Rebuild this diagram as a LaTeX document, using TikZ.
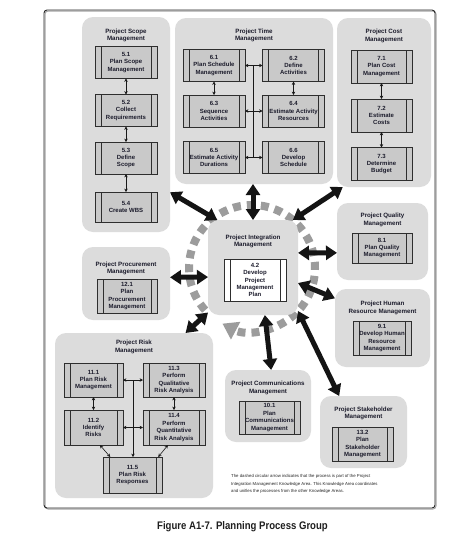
\documentclass[tikz,border=0pt]{standalone}
\usepackage{fontspec}
\setmainfont{Liberation Sans}
\newfontfamily\capfont[FakeStretch=0.87]{Liberation Sans}
\usetikzlibrary{shapes,arrows.meta,calc}
\definecolor{areagray}{HTML}{DCDCDC}
\definecolor{boxgray}{HTML}{C9C9C9}
\definecolor{boxline}{HTML}{2E2E2E}
\definecolor{ink}{HTML}{1C1C2C}
\definecolor{ringgray}{HTML}{9C9C9C}
\begin{document}
\begin{tikzpicture}[x=1pt,y=-1pt]
        \tikzstyle{area}=[fill=areagray, rounded corners=11pt, inner sep=0pt, outer sep=0pt]
        \tikzstyle{atitle}=[font=\fontsize{6.2}{7.6}\selectfont\bfseries, text=ink, align=center, inner sep=0pt]
        \tikzstyle{proc}=[draw=boxline, fill=boxgray, line width=.6pt, inner sep=0pt, outer sep=0pt,
            minimum width=62pt, minimum height=32pt, align=center, text=ink,
            font=\fontsize{6}{7.4}\selectfont\bfseries,
            path picture={\draw[boxline, line width=.5pt]
                ([xshift=6pt]path picture bounding box.north west) -- ([xshift=6pt]path picture bounding box.south west)
                ([xshift=-6pt]path picture bounding box.north east) -- ([xshift=-6pt]path picture bounding box.south east);}]
        \tikzstyle{link}=[black!90, line width=.6pt, >={Stealth[length=3.4pt,width=3.4pt]}]
        \tikzstyle{bigarrow}=[black!92, line width=5pt, >={Triangle[length=11pt,width=14pt]}, <->]
        \useasboundingbox[fill=white] (0,0) rectangle (467,552);
        \draw[gray!70, line width=1pt, rounded corners=3pt] (45,11) rectangle (436,509);
        \draw[black!85, line width=.9pt, rounded corners=3pt] (44,10) rectangle (435,508);
        \draw[ringgray, line width=8pt, dash pattern=on 8pt off 6pt, -{Triangle[length=15pt,width=19pt]}]
            (252,268) ++(-222:63) arc[start angle=-222, end angle=118, radius=63];

        \node[area, minimum width=88pt, minimum height=215pt] (scope) at (126,124.5) {};
        \node[area, minimum width=158pt, minimum height=166pt] (time) at (254,101) {};
        \node[area, minimum width=94pt, minimum height=169pt] (cost) at (384,102.5) {};
        \node[area, minimum width=90pt, minimum height=95pt] (integ) at (253,267.5) {};
        \node[area, minimum width=91pt, minimum height=77pt] (quality) at (382.5,241.5) {};
        \node[area, minimum width=95pt, minimum height=78pt] (hr) at (382.5,328) {};
        \node[area, minimum width=88pt, minimum height=73pt] (procure) at (126,283.5) {};
        \node[area, minimum width=158pt, minimum height=165pt] (risk) at (134,415.5) {};
        \node[area, minimum width=86pt, minimum height=72pt] (comm) at (268,406) {};
        \node[area, minimum width=87pt, minimum height=72pt] (stake) at (363.5,432) {};

        \node[atitle] (scopet) at (126,35.5) {Project Scope\\Management};
        \node[atitle] (timet) at (254,35.5) {Project Time\\Management};
        \node[atitle] (costt) at (384,36) {Project Cost\\Management};
        \node[atitle] (integt) at (253,241.5) {Project Integration\\Management};
        \node[atitle] (qualityt) at (382.5,220) {Project Quality\\Management};
        \node[atitle] (hrt) at (382.5,308) {Project Human\\Resource Management};
        \node[atitle] (procuret) at (126,268.5) {Project Procurement\\Management};
        \node[atitle] (riskt) at (134,347) {Project Risk\\Management};
        \node[atitle] (commt) at (268,388) {Project Communications\\Management};
        \node[atitle] (staket) at (363.5,413.5) {Project Stakeholder\\Management};

        \node[proc] (s51) at (126,62.5) {5.1\\Plan Scope\\Management};
        \node[proc] (s52) at (126,110.5) {5.2\\Collect\\Requirements};
        \node[proc] (s53) at (126,158) {5.3\\Define\\Scope};
        \node[proc, minimum height=30pt] (s54) at (126,207) {5.4\\Create WBS};
        \draw[link, <->] (s51) -- (s52);
        \draw[link, <->] (s52) -- (s53);
        \draw[link, <->] (s53) -- (s54);

        \node[proc] (t61) at (214,65.5) {6.1\\Plan Schedule\\Management};
        \node[proc] (t62) at (293.5,65.5) {6.2\\Define\\Activities};
        \node[proc] (t63) at (214,111) {6.3\\Sequence\\Activities};
        \node[proc] (t64) at (293.5,111) {6.4\\Estimate Activity\\Resources};
        \node[proc] (t65) at (214,157.5) {6.5\\Estimate Activity\\Durations};
        \node[proc] (t66) at (293.5,157.5) {6.6\\Develop\\Schedule};
        \coordinate (tbar) at ($(t61.east)!.5!(t62.west)$);
        \draw[link] (tbar) -- (tbar |- t65.east);
        \draw[link, <->] (t61) -- (t62);
        \draw[link, <->] (t63) -- (t64);
        \draw[link, <->] (t65) -- (t66);
        \draw[link, <->] (t61) -- (t63);
        \draw[link, <->] (t62) -- (t64);

        \node[proc, minimum width=61pt, minimum height=33pt] (c71) at (381.5,66.5) {7.1\\Plan Cost\\Management};
        \node[proc, minimum width=61pt, minimum height=33pt] (c72) at (381.5,115.5) {7.2\\Estimate\\Costs};
        \node[proc, minimum width=61pt, minimum height=33pt] (c73) at (381.5,164) {7.3\\Determine\\Budget};
        \draw[link, <->] (c71) -- (c72);
        \draw[link, <->] (c72) -- (c73);

        \node[proc, fill=white, minimum height=42pt] (i42) at (255,280) {4.2\\Develop\\Project\\Management\\Plan};
        \node[proc, minimum width=60pt, minimum height=30pt] (q81) at (382,248) {8.1\\Plan Quality\\Management};
        \node[proc, minimum width=58pt, minimum height=34pt] (h91) at (382,338) {9.1\\Develop Human\\Resource\\Management};
        \node[proc, minimum width=60pt, minimum height=34pt] (p121) at (127,296) {12.1\\Plan\\Procurement\\Management};

        \node[proc, minimum width=59pt, minimum height=34pt] (r111) at (93.5,380) {11.1\\Plan Risk\\Management};
        \node[proc, minimum height=34pt] (r113) at (174,380) {11.3\\Perform\\Qualitative\\Risk Analysis};
        \node[proc, minimum width=59pt, minimum height=35pt] (r112) at (93.5,427.5) {11.2\\Identify\\Risks};
        \node[proc, minimum height=35pt] (r114) at (174,427.5) {11.4\\Perform\\Quantitative\\Risk Analysis};
        \node[proc, minimum width=59pt, minimum height=36pt] (r115) at (132.5,475) {11.5\\Plan Risk\\Responses};
        \coordinate (rbar) at ($(r111.east)!.5!(r113.west)$);
        \draw[link, ->] (rbar) -- (rbar |- r115.north);
        \draw[link, <->] (r111) -- (r113);
        \draw[link, <->] (r112) -- (r114);
        \draw[link, <->] (r111) -- (r112);
        \draw[link, <->] (r113) -- (r114);
        \draw[link, <->] (r112.-70) -- (r115.141);
        \draw[link, <->] (r114.-109) -- (r115.35);

        \node[proc, minimum width=61pt, minimum height=33pt] (m101) at (269.5,417.5) {10.1\\Plan\\Communications\\Management};
        \node[proc, minimum width=61pt, minimum height=34pt] (k132) at (362.5,444) {13.2\\Plan\\Stakeholder\\Management};

        \draw[bigarrow] (scope.-57) -- (integ.127);
        \draw[bigarrow] (integ.north |- time.south) -- (integ.north);
        \draw[bigarrow] (cost.244) -- (integ.50);
        \draw[bigarrow] (quality.194) -- (integ.18);
        \draw[bigarrow] (hr.148) -- (integ.-19);
        \draw[bigarrow] (procure.8) -- (integ.192);
        \draw[bigarrow] (risk.58) -- (integ.225);
        \draw[bigarrow] (comm.85) -- (integ.-76);
        \draw[bigarrow] (stake.124) -- (integ.-44);

        \node[font=\fontsize{4.3}{7.5}\selectfont, text=black!85, align=left, anchor=north west, inner sep=0pt] (note) at (231,474.5)
            {The dashed circular arrow indicates that the process is part of the Project\\Integration Management Knowledge Area. This Knowledge Area coordinates\\and unifies the processes from the other Knowledge Areas.};
        \node[font=\capfont\bfseries\fontsize{11}{13}\selectfont, text=black!88] (caption) at (242.5,527) {Figure A1-7. Planning Process Group};
\end{tikzpicture}
\end{document}
